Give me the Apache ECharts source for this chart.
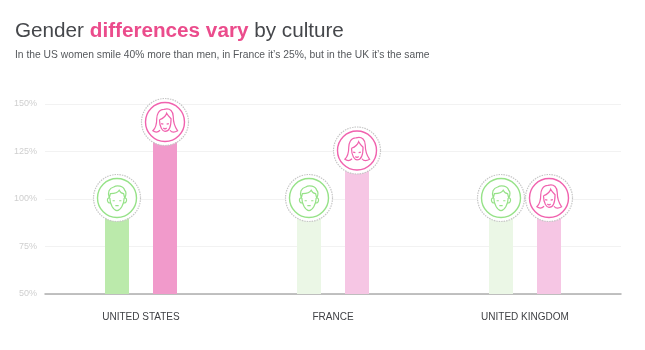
<!DOCTYPE html>
<html>
<head>
<meta charset="utf-8">
<style>html,body{margin:0;padding:0;background:#fff}#c{width:645px;height:350px}</style>
<script src="https://cdn.jsdelivr.net/npm/echarts@6/dist/echarts.min.js"></script>
</head>
<body>
<div id="c"></div>
<script>
var categories = ['UNITED STATES', 'FRANCE', 'UNITED KINGDOM'];
var menValues = [100, 100, 100];
var womenValues = [140, 125, 100];
var menColors = ['#BBEAAB', '#EBF7E6', '#EBF7E6'];
var womenColors = ['#F19ACB', '#F6C6E4', '#F6C6E4'];
var tickMin = 50, tickMax = 150, tickStep = 25;

var malePath = 'M-7 0C-9 -5 -7 -9 -3 -10C0 -12 6 -11 7 -7C9 -5 8 -2 7 0'
  + 'M-7 0L-6 -4C-3 -4 1 -5 2 -7C3 -5 5 -4 6 -4L7 0'
  + 'M-6.5 0C-6.5 6 -3 11.5 0 11.5C3 11.5 6.5 6 6.5 0'
  + 'M-6.5 0C-9.5 -1 -9.5 5 -6 4.5M6.5 0C9.5 -1 9.5 5 6 4.5'
  + 'M-4 2.5L-2 2.5M2 2.5L4 2.5M-1.5 7L1.5 7';
var femalePath = 'M-1 -11.5C5 -13.5 7.5 -9 7.5 -5C7.5 0 8.5 4 11.5 8C9 9.5 6 9.5 4.5 7.5'
  + 'M-1 -11.5C-6 -11.5 -7.5 -6 -7.5 -3C-7.5 2 -9 6 -11 8C-9 9.5 -6.5 9.5 -4.5 7.5'
  + 'M-5 -2C-5 5 -2 8.5 0 8.5C3 8.5 5.5 5 5.5 -3C3.5 -5 2.5 -6 1.5 -8C0.5 -5 -2.5 -3 -5 -2'
  + 'M-3.5 1.5L-1.5 2M1.5 2L3.5 1.5M-1.5 5.5C-0.5 6.5 0.5 6.5 1.5 5.5';

function badge(values, side, path, color) {
  return {
    type: 'custom',
    z: 5 + (side > 0 ? 1 : 0),
    silent: true,
    data: values.map(function (v, i) { return [i, v]; }),
    renderItem: function (params, api) {
      var p = api.coord([api.value(0), api.value(1)]);
      var band = api.size([1, 0])[0];
      return {
        type: 'group',
        x: p[0] + side * band / 8,
        y: p[1] - 1,
        children: [
          { type: 'circle', shape: { cx: 0, cy: 0, r: 23.5 },
            style: { fill: '#fff', stroke: '#c6c6c6', lineWidth: 1.2, lineDash: [1.5, 1] } },
          { type: 'circle', shape: { cx: 0, cy: 0, r: 19.5 },
            style: { fill: '#fff', stroke: color, lineWidth: 1.4 } },
          { type: 'path', scaleX: 1.1, scaleY: 1.1, shape: { pathData: path },
            style: { fill: 'none', stroke: color, lineWidth: 1.1 } }
        ]
      };
    }
  };
}

var chart = echarts.init(document.getElementById('c'), null, { renderer: 'canvas' });
chart.setOption({
  animation: false,
  backgroundColor: '#fff',
  textStyle: { fontFamily: '"Liberation Sans", Arial, sans-serif' },
  title: [{
    left: 10, top: 16,
    text: '{a|Gender }{b|differences vary}{a| by culture}',
    textStyle: {
      fontWeight: 'normal',
      rich: {
        a: { fontSize: 20.7, color: '#45474b', fontWeight: 'normal', fontFamily: 'Liberation Sans' },
        b: { fontSize: 20.7, color: '#EB4C8C', fontWeight: 'bold', fontFamily: 'Liberation Sans' }
      }
    }
  }, {
    left: 10, top: 45,
    text: 'In the US women smile 40% more than men, in France it\u2019s 25%, but in the UK it\u2019s the same',
    textStyle: { fontSize: 10.3, fontWeight: 'normal', color: '#55585c', fontFamily: 'Liberation Sans' }
  }],
  grid: { left: 45, right: 24, top: 104, bottom: 56 },
  xAxis: {
    type: 'category',
    data: categories,
    axisTick: { show: false },
    axisLine: { lineStyle: { color: '#adadad', width: 1.5 } },
    axisLabel: { color: '#3f4145', fontSize: 10, margin: 18 }
  },
  yAxis: {
    type: 'value',
    min: tickMin, max: tickMax, interval: tickStep,
    axisLine: { show: false },
    axisTick: { show: false },
    splitLine: { lineStyle: { color: '#f2f2f2', width: 1 } },
    axisLabel: { color: '#cfcfcf', fontSize: 9, margin: 8, formatter: '{value}%' }
  },
  series: [
    { type: 'bar', barWidth: 24, barGap: '100%',
      data: menValues.map(function (v, i) { return { value: v, itemStyle: { color: menColors[i] } }; }) },
    { type: 'bar', barWidth: 24,
      data: womenValues.map(function (v, i) { return { value: v, itemStyle: { color: womenColors[i] } }; }) },
    badge(menValues, -1, malePath, '#96E288'),
    badge(womenValues, 1, femalePath, '#F062AE')
  ]
});
</script>
</body>
</html>
